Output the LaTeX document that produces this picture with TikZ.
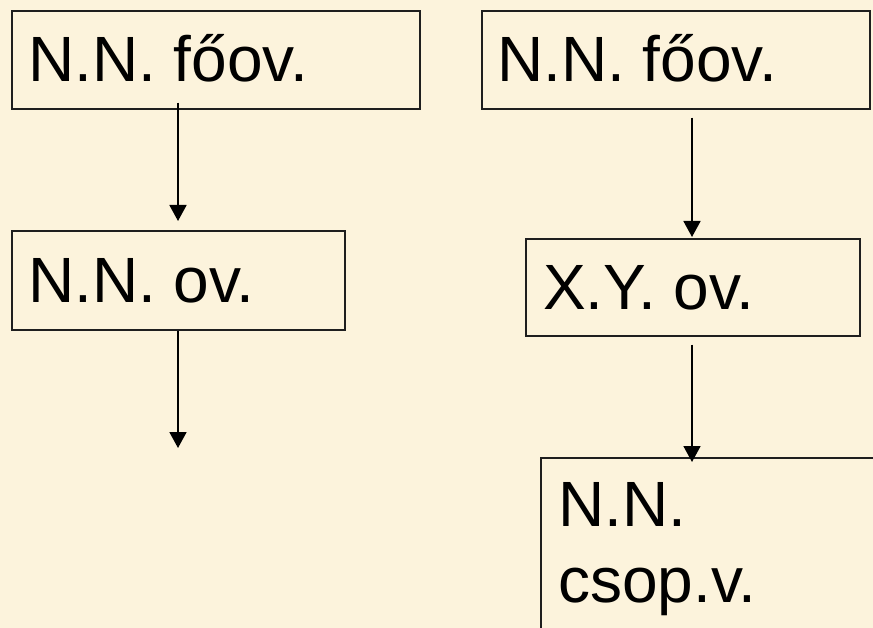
\documentclass[tikz,border=0pt]{standalone}
\usepackage{fontspec}
\setmainfont{Liberation Sans}
\usetikzlibrary{arrows.meta}
\definecolor{parch}{RGB}{252,243,220}
\definecolor{edge}{RGB}{30,30,30}
\begin{document}
\begin{tikzpicture}[x=1pt,y=1pt,
  box/.style={draw=edge,line width=1.7pt,rectangle,inner sep=0pt,anchor=north west},
  lbl/.style={inner sep=0pt,anchor=base west,font=\fontsize{64pt}{76pt}\selectfont},
  arr/.style={draw=black,line width=1.8pt,-{Triangle[width=17pt,length=16pt]}}]
\fill[parch] (0,0) rectangle (873,-628);
\useasboundingbox (0,0) rectangle (873,-628);
\clip (0,0) rectangle (873,-628);
% left column
\node[box,minimum width=408pt,minimum height=98pt] (A) at (11,-10) {};
\node[lbl] (At) at (28,-82) {N.N. főov.};
\node[box,minimum width=333pt,minimum height=99pt] (B) at (11,-230) {};
\node[lbl] (Bt) at (28,-303) {N.N. ov.};
\coordinate (Bend) at (178,-448);
% right column
\node[box,minimum width=388pt,minimum height=98pt] (C) at (481,-10) {};
\node[lbl] (Ct) at (497,-82) {N.N. főov.};
\node[box,minimum width=334pt,minimum height=97pt] (D) at (525,-238) {};
\node[lbl] (Dt) at (543,-310) {X.Y. ov.};
\node[box,minimum width=333pt,minimum height=200pt] (E) at (540,-457) {};
\node[lbl,align=left,anchor=north west] (Et) at (558,-482) {N.N.\\csop.v.};
% connectors
\draw[arr] ([xshift=167pt,yshift=7pt]A.south west) -- ([xshift=167pt,yshift=9pt]B.north west);
\draw[arr] ([xshift=167pt]B.south west) -- (Bend);
\draw[arr] ([xshift=211pt,yshift=-8pt]C.south west) -- ([xshift=167pt,yshift=1pt]D.north west);
\draw[arr] ([xshift=167pt,yshift=-8pt]D.south west) -- ([xshift=152pt,yshift=-5pt]E.north west);
\end{tikzpicture}
\end{document}
